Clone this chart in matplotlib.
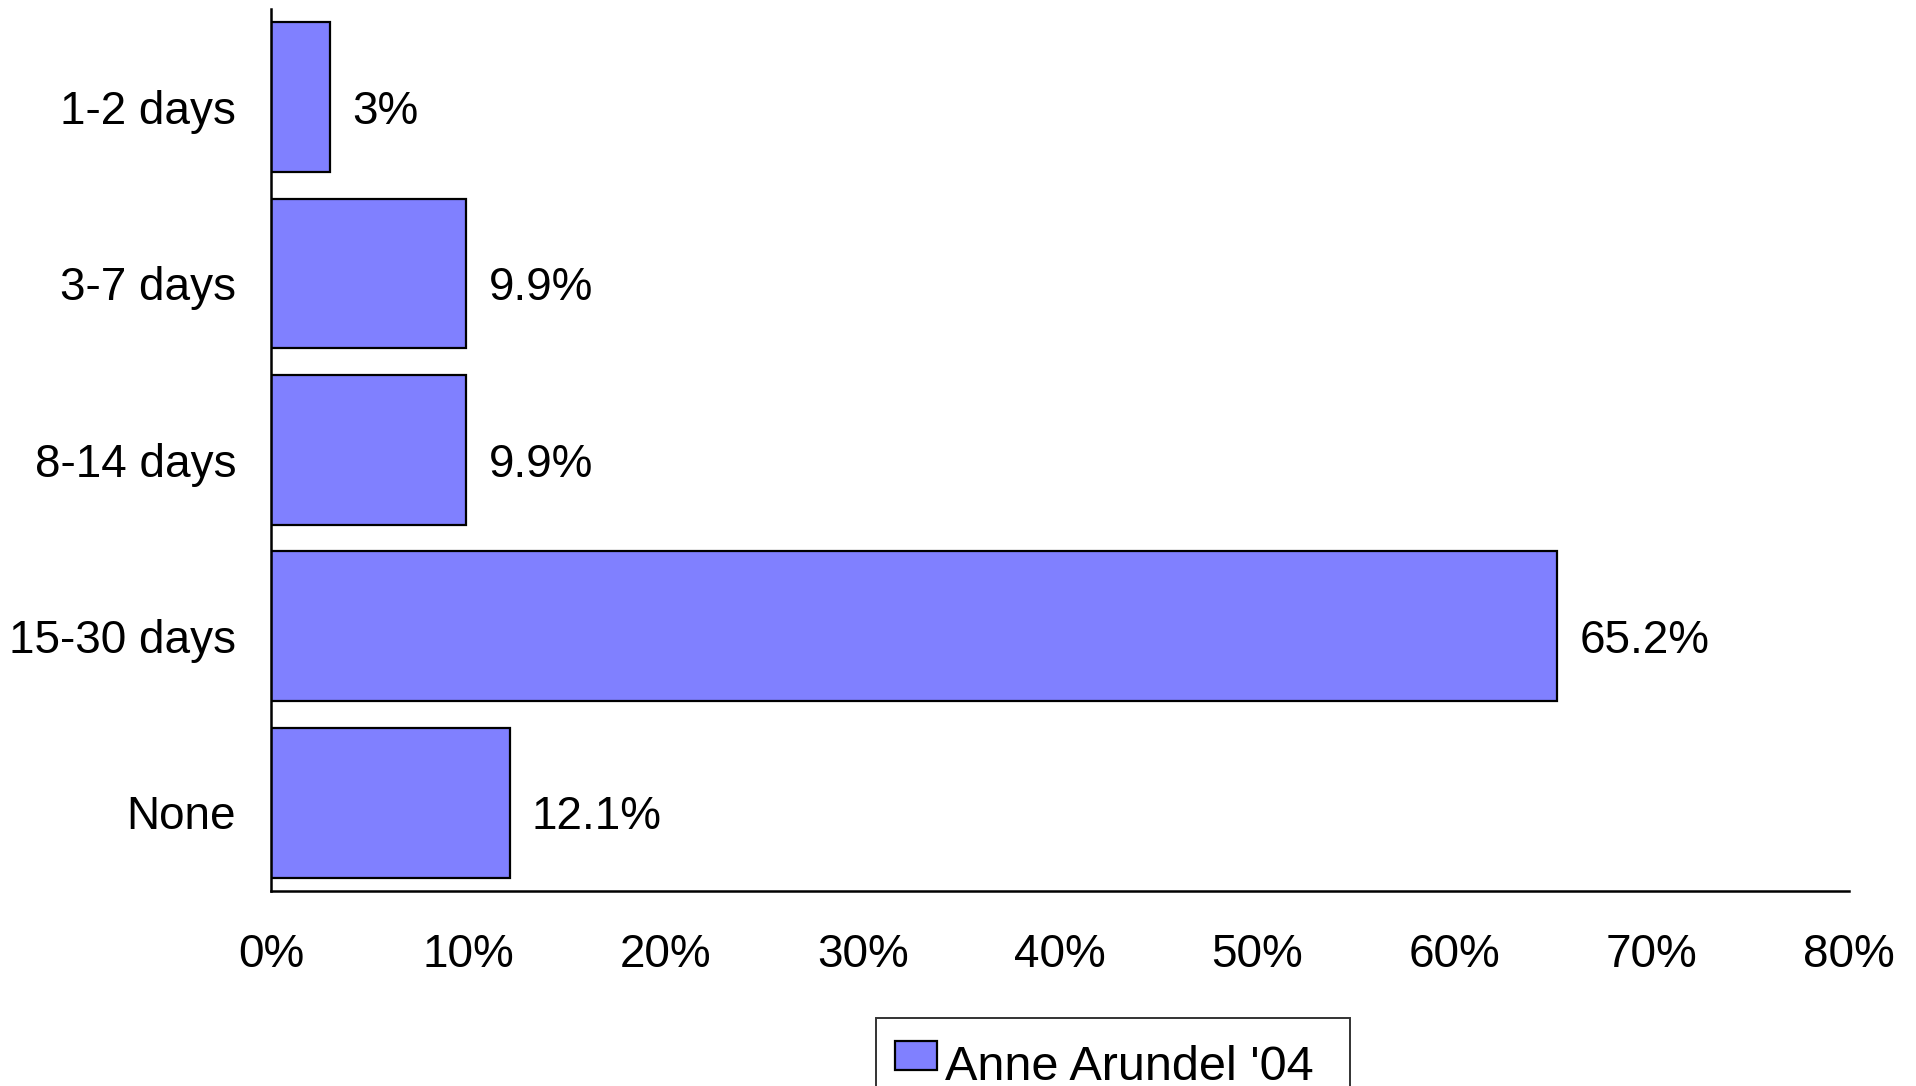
import matplotlib
matplotlib.use("Agg")
import matplotlib.pyplot as plt
from matplotlib.ticker import FuncFormatter
from matplotlib.transforms import ScaledTranslation

plt.rcParams["font.family"] = ["Liberation Sans", "DejaVu Sans"]

# ── Data ────────────────────────────────────────────────────────────
categories = ["1-2 days", "3-7 days", "8-14 days", "15-30 days", "None"]
values = [3.0, 9.9, 9.9, 65.2, 12.1]
value_labels = ["3%", "9.9%", "9.9%", "65.2%", "12.1%"]
series_name = "Anne Arundel '04"
x_ticks = [0, 10, 20, 30, 40, 50, 60, 70, 80]

BAR_COLOR = "#8080FF"
FS = 33

fig = plt.figure(figsize=(19.16, 10.86), dpi=100)
ax = fig.add_axes([0.1414, 0.1796, 0.8236, 0.8122])

y = list(range(len(categories)))
bars = ax.barh(y, values, height=0.85, color=BAR_COLOR,
               edgecolor="black", linewidth=1.6, label=series_name)

# value labels just right of each bar, sitting a little low
for bar, txt in zip(bars, value_labels):
    ax.annotate(txt, (bar.get_width(), bar.get_y() + bar.get_height() / 2),
                xytext=(16, -7), textcoords="offset points",
                ha="left", va="center_baseline", fontsize=FS)

ax.set_ylim(len(categories) - 0.5, -0.5)
ax.set_yticks(y)
ax.set_yticklabels(categories, va="center_baseline")
ax.set_xlim(0, 80)
ax.set_xticks(x_ticks)
ax.xaxis.set_major_formatter(FuncFormatter(lambda v, _: f"{v:.0f}%"))

ax.tick_params(axis="both", length=0, labelsize=FS)
ax.tick_params(axis="x", pad=30)
ax.tick_params(axis="y", pad=25)

shift = ScaledTranslation(0, -7 / 72, fig.dpi_scale_trans)
for lbl in ax.get_yticklabels():
    lbl.set_transform(lbl.get_transform() + shift)

for side in ("top", "right"):
    ax.spines[side].set_visible(False)
for side in ("left", "bottom"):
    ax.spines[side].set_linewidth(1.8)

# legend box stretched to a fixed width below the axis
leg = fig.legend(handles=[bars], labels=[series_name],
                 loc="upper left", bbox_to_anchor=(0.4572, 0.0626 - 0.2, 0.2475, 0.2),
                 mode="expand",
                 fontsize=35, frameon=True, fancybox=False, shadow=False,
                 handlelength=0.85, handleheight=0.55, handletextpad=0.17,
                 borderpad=0.4, borderaxespad=0)
leg.get_frame().set_edgecolor("black")
leg.get_frame().set_linewidth(1.4)
leg.get_texts()[0].set_y(-8)

fig.savefig("out.png", dpi=100)
